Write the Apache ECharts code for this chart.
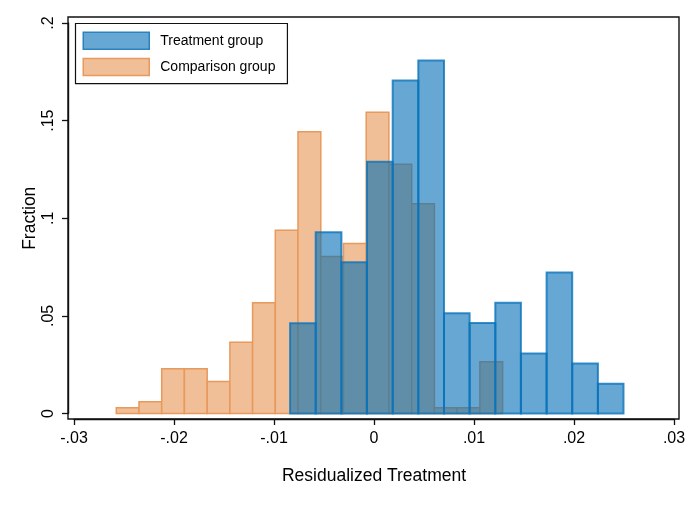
<!DOCTYPE html>
<html><head><meta charset="utf-8">
<script src="https://cdn.jsdelivr.net/npm/echarts@6/dist/echarts.min.js"></script>
<style>html,body{margin:0;padding:0;background:#fff}#c{width:698px;height:507px}</style>
</head><body><div id="c"></div>
<script>
// Treatment group histogram: bin edges and fractions
const treatEdges = [-0.00839,-0.00583,-0.00326,-0.00070,0.00187,0.00443,0.00700,0.00956,0.01213,0.01469,0.01726,0.01982,0.02239,0.02495];
const treatFrac = [0.0462,0.0928,0.0775,0.1290,0.1706,0.1808,0.0513,0.0464,0.0567,0.0307,0.0722,0.0256,0.0153];
// Comparison group histogram
const compEdges = [-0.02577,-0.02350,-0.02123,-0.01896,-0.01668,-0.01441,-0.01214,-0.00987,-0.00760,-0.00532,-0.00305,-0.00078,0.00149,0.00377,0.00604,0.00831,0.01059,0.01286];
const compFrac = [0.0029,0.0060,0.0229,0.0229,0.0164,0.0365,0.0567,0.0939,0.1443,0.0804,0.0871,0.1543,0.1277,0.1074,0.0029,0.0029,0.0265];
// Axis ticks
const xTickValues = [-0.03,-0.02,-0.01,0,0.01,0.02,0.03];
const xTickLabels = ['-.03','-.02','-.01','0','.01','.02','.03'];
const yTickValues = [0,0.05,0.1,0.15,0.2];
const yTickLabels = ['0','.05','.1','.15','.2'];
const seriesNames = ['Treatment group','Comparison group'];

function toBins(edges, frac){
  return frac.map((f,i)=>[edges[i], edges[i+1], f]);
}
function labelFor(vals, labels){
  return function(v){
    for (let i=0;i<vals.length;i++){ if (Math.abs(vals[i]-v) < 1e-9) return labels[i]; }
    return '';
  };
}
function makeRender(fill, stroke, lw){
  return function(params, api){
    const p0 = api.coord([api.value(0), api.value(2)]);
    const p1 = api.coord([api.value(1), 0]);
    return {type:'rect', shape:{x:p0[0], y:p0[1], width:p1[0]-p0[0], height:p1[1]-p0[1]},
      style:{fill:fill, stroke:stroke, lineWidth:lw}};
  };
}

const FONT = '"Liberation Sans", Arial, Helvetica, sans-serif';
const blueFill = 'rgba(0,110,182,0.6)', blueStroke = 'rgba(10,115,186,0.8)';
const orangeFill = '#f0bf97', orangeStroke = '#e8995c';

const chart = echarts.init(document.getElementById('c'), null, {renderer:'canvas'});
const option = {
  animation:false,
  backgroundColor:'#fff',
  textStyle:{fontFamily:FONT},
  grid:{left:74, right:24, top:23, bottom:93.5, containLabel:false},
  legend:{
    orient:'vertical', left:75.5, top:23.5,
    padding:[8,12,7.5,7], itemGap:7.7, itemWidth:66, itemHeight:17,
    borderColor:'#111', borderWidth:1.2, backgroundColor:'#fff',
    textStyle:{fontFamily:FONT, fontSize:14, color:'#000', padding:[0,0,0,6]},
    selectedMode:false,
    data:[
      {name:seriesNames[0], icon:'rect', itemStyle:{color:'rgba(0,110,182,0.6)', borderColor:'#2a83c0', borderWidth:1.5}},
      {name:seriesNames[1], icon:'rect', itemStyle:{color:orangeFill, borderColor:orangeStroke, borderWidth:1.5}}
    ]
  },
  xAxis:{
    type:'value', min:-0.03, max:0.03, interval:0.01, offset:5.5, position:'bottom',
    name:'Residualized Treatment', nameLocation:'middle', nameGap:48, nameMoveOverlap:false,
    nameTextStyle:{fontFamily:FONT, fontSize:17.5, color:'#000'},
    axisLine:{show:true, onZero:false, lineStyle:{color:'#111', width:1.4}},
    axisTick:{show:true, inside:false, length:6, lineStyle:{color:'#111', width:1.3}},
    axisLabel:{fontFamily:FONT, fontSize:16, color:'#000', margin:11.5, formatter:labelFor(xTickValues,xTickLabels)},
    splitLine:{show:false}
  },
  yAxis:{
    type:'value', min:0, max:0.2, interval:0.05, offset:6, position:'left',
    name:'Fraction', nameLocation:'middle', nameGap:29, nameMoveOverlap:false,
    nameTextStyle:{fontFamily:FONT, fontSize:17.5, color:'#000'},
    axisLine:{show:true, onZero:false, lineStyle:{color:'#111', width:1.4}},
    axisTick:{show:true, inside:false, length:6, lineStyle:{color:'#111', width:1.3}},
    axisLabel:{fontFamily:FONT, fontSize:16, color:'#000', margin:11.5, rotate:90, formatter:labelFor(yTickValues,yTickLabels)},
    splitLine:{show:false}
  },
  series:[
    {name:seriesNames[1], type:'custom', z:2, renderItem:makeRender(orangeFill, orangeStroke, 1.5),
     encode:{x:[0,1], y:2}, data:toBins(compEdges, compFrac), itemStyle:{color:orangeFill}},
    {name:seriesNames[0], type:'custom', z:3, renderItem:makeRender(blueFill, blueStroke, 2),
     encode:{x:[0,1], y:2}, data:toBins(treatEdges, treatFrac), itemStyle:{color:blueFill}}
  ]
};
chart.setOption(option);
// Stata-style plot frame, slightly larger than the axis range
const tl = chart.convertToPixel({gridIndex:0}, [-0.03, 0.2]);
const br = chart.convertToPixel({gridIndex:0}, [0.03, 0]);
chart.setOption({graphic:[{type:'rect', z:10, silent:true,
  shape:{x:tl[0]-6, y:tl[1]-6, width:(br[0]-tl[0])+11, height:(br[1]-tl[1])+11.5},
  style:{fill:'none', stroke:'#111', lineWidth:1.4}}]});
</script>
</body></html>
